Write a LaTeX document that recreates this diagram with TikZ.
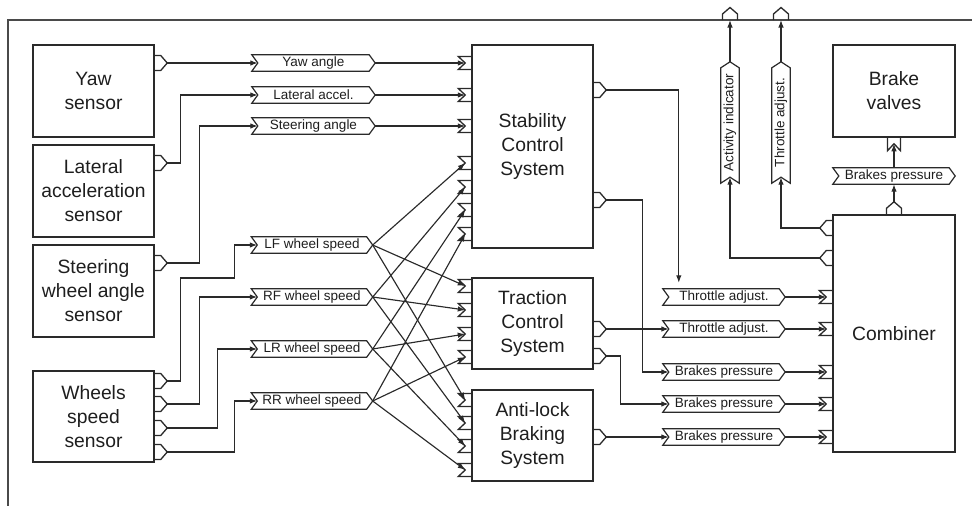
\documentclass[tikz,border=0pt]{standalone}
\usepackage{fontspec}
\setmainfont{Liberation Sans}
\usetikzlibrary{arrows.meta,calc}
\definecolor{inkc}{HTML}{1E1E1E}
\definecolor{linec}{HTML}{2A2A2A}
\definecolor{framec}{HTML}{4A4A4A}

\tikzset{
  sysbox/.style={draw=linec, line width=1.5pt, minimum width=121pt, align=center,
    inner sep=2pt, text=inkc, font=\fontsize{19.3}{24}\selectfont},
  sigtag/.style={minimum height=16pt, inner sep=0pt, text=inkc,
    font=\fontsize{13.5}{15}\selectfont},
  sigline/.style={draw=linec, line width=1.2pt, line join=miter},
  portln/.style={draw=linec, line width=1.3pt},
  wire/.style={draw=linec, line width=1.15pt, -{Latex[length=7.5pt,width=5.5pt]}},
  outport/.pic={
    \draw[portln] (0,-7.5) -- (6,-7.5) -- (12.5,0) -- (6,7.5) -- (0,7.5);
    \coordinate (-tip) at (12.5,0);
    \coordinate (-base) at (0,0);},
  inport/.pic={
    \draw[portln] (0,-6.5) -- (-13,-6.5) -- (-6,0) -- (-13,6.5) -- (0,6.5);
    \coordinate (-tip) at (-6,0);},
}

% signal tag: notched tail on the west side, point on the east side
\newcommand\sigflag[5][]{%
  \node[sigtag, minimum width=#5, #1] (#2) at (#3) {#4};
  \draw[sigline] (#2.north west) -- ($(#2.north east)!6pt!(#2.north west)$)
    -- (#2.east) -- ($(#2.south east)!6pt!(#2.south west)$)
    -- (#2.south west) -- ($(#2.west)!6pt!(#2.east)$) -- cycle;
  \coordinate (#2-in) at ($(#2.west)!6pt!(#2.east)$);
}

\begin{document}
\begin{tikzpicture}[x=1pt, y=-1pt]
\useasboundingbox (0,0) rectangle (972,506);

% enclosing frame
\draw[framec, line width=1.2pt] (8,506) -- (8,20) -- (972,20);

% sensors
\node[sysbox, minimum height=92pt] (yaw) at (93.5,91) {Yaw\\sensor};
\node[sysbox, minimum height=92pt] (lat) at (93.5,191) {Lateral\\acceleration\\sensor};
\node[sysbox, minimum height=92pt] (ste) at (93.5,291) {Steering\\wheel angle\\sensor};
\node[sysbox, minimum height=91pt] (whl) at (93.5,416.5) {Wheels\\speed\\sensor};

% controllers
\node[sysbox, minimum height=203pt] (scs) at (532.5,146.5) {Stability\\Control\\System};
\node[sysbox, minimum height=91pt] (tcs) at (532.5,323.5) {Traction\\Control\\System};
\node[sysbox, minimum height=91pt] (abs) at (532.5,435.5) {Anti-lock\\Braking\\System};

% actuators
\node[sysbox, minimum width=122pt, minimum height=92pt] (bv) at (894,91) {Brake\\valves};
\node[sysbox, minimum width=122pt, minimum height=237pt] (cmb) at (894,333.5) {Combiner};

% output ports
\pic (yawO) at (yaw.east |- 0,63) {outport};
\pic (latO) at (lat.east |- 0,163) {outport};
\pic (steO) at (ste.east |- 0,263) {outport};
\pic (whO1) at (whl.east |- 0,381) {outport};
\pic (whO2) at (whl.east |- 0,404) {outport};
\pic (whO3) at (whl.east |- 0,428) {outport};
\pic (whO4) at (whl.east |- 0,452) {outport};
\pic (scsO1) at (scs.east |- 0,90) {outport};
\pic (scsO2) at (scs.east |- 0,200) {outport};
\pic (tcsO1) at (tcs.east |- 0,329) {outport};
\pic (tcsO2) at (tcs.east |- 0,356) {outport};
\pic (absO) at (abs.east |- 0,437) {outport};
\pic[rotate=180] (cmbO1) at (cmb.west |- 0,228) {outport};
\pic[rotate=180] (cmbO2) at (cmb.west |- 0,258) {outport};
\pic[rotate=90] (cmbO3) at (cmb.north) {outport};
\pic[rotate=90] (frO1) at (730,20) {outport};
\pic[rotate=90] (frO2) at (781,20) {outport};

% input ports
\foreach \n/\y in {1/63,2/95,3/126,4/163,5/187,6/210,7/234}
  \pic (scsI\n) at (scs.west |- 0,\y) {inport};
\foreach \n/\y in {1/286,2/310,3/334,4/357}
  \pic (tcsI\n) at (tcs.west |- 0,\y) {inport};
\foreach \n/\y in {1/400,2/423,3/446,4/470}
  \pic (absI\n) at (abs.west |- 0,\y) {inport};
\foreach \n/\y in {1/297,2/329,3/372,4/404,5/437}
  \pic (cmbI\n) at (cmb.west |- 0,\y) {inport};
\pic[rotate=90] (bvI) at (bv.south) {inport};

% signal tags
\sigflag{yawT}{313.5,63}{Yaw angle}{123pt}
\sigflag{latT}{313.5,95}{Lateral accel.}{123pt}
\sigflag{steT}{313.5,126}{Steering angle}{123pt}
\sigflag{lfT}{312,245}{LF wheel speed}{121pt}
\sigflag{rfT}{312,297}{RF wheel speed}{121pt}
\sigflag{lrT}{312,349}{LR wheel speed}{121pt}
\sigflag{rrT}{312,401}{RR wheel speed}{121pt}
\sigflag{thr1T}{724,297}{Throttle adjust.}{122pt}
\sigflag{thr2T}{724,329}{Throttle adjust.}{122pt}
\sigflag{bp1T}{724,372}{Brakes pressure}{122pt}
\sigflag{bp2T}{724,404}{Brakes pressure}{122pt}
\sigflag{bp3T}{724,437}{Brakes pressure}{122pt}
\sigflag{bpvT}{894,176}{Brakes pressure}{122pt}
\sigflag[rotate=90, minimum height=18pt]{actT}{730,122.5}{Activity indicator}{121pt}
\sigflag[rotate=90, minimum height=18pt]{thrvT}{781,122.5}{Throttle adjust.}{121pt}

% sensors to tags
\draw[wire] (yawO-tip) -- (yawT-in);
\draw[wire] (latO-tip) -- ++(13.5,0) |- (latT-in);
\draw[wire] (steO-tip) -- ++(32.5,0) |- (steT-in);
\draw[wire] (whO1-tip) -- ++(13.5,0) |- ++(54,-103) |- (lfT-in);
\draw[wire] (whO2-tip) -- ++(32.5,0) |- (rfT-in);
\draw[wire] (whO3-tip) -- ++(50.5,0) |- (lrT-in);
\draw[wire] (whO4-tip) -- ++(67.5,0) |- (rrT-in);

% tags to stability control
\draw[wire] (yawT.east) -- (scsI1-tip);
\draw[wire] (latT.east) -- (scsI2-tip);
\draw[wire] (steT.east) -- (scsI3-tip);

% wheel speeds fan out to all three controllers
\foreach \w/\s/\k in {lfT/4/1, rfT/5/2, lrT/6/3, rrT/7/4}{
  \draw[wire] (\w.east) -- (scsI\s-tip);
  \draw[wire] (\w.east) -- (tcsI\k-tip);
  \draw[wire] (\w.east) -- (absI\k-tip);
}

% controller outputs
\draw[wire] (scsO1-tip) -| ([xshift=16pt,yshift=6pt]thr1T.north west);
\draw[wire] (scsO2-tip) -- ++(36,0) |- (bp1T-in);
\draw[wire] (tcsO1-tip) -- (thr2T-in);
\draw[wire] (tcsO2-tip) -- ++(14,0) |- (bp2T-in);
\draw[wire] (absO-tip) -- (bp3T-in);

% tags into the combiner
\draw[wire] (thr1T.east) -- (cmbI1-tip);
\draw[wire] (thr2T.east) -- (cmbI2-tip);
\draw[wire] (bp1T.east) -- (cmbI3-tip);
\draw[wire] (bp2T.east) -- (cmbI4-tip);
\draw[wire] (bp3T.east) -- (cmbI5-tip);

% combiner outputs
\draw[wire] (cmbO1-tip) -| (thrvT-in);
\draw[wire] (cmbO2-tip) -| (actT-in);
\draw[wire] (thrvT.east) -- (frO2-base);
\draw[wire] (actT.east) -- (frO1-base);
\draw[wire] (cmbO3-tip) -- (bpvT.south);
\draw[wire] (bpvT.north) -- (bvI-tip);
\end{tikzpicture}
\end{document}
